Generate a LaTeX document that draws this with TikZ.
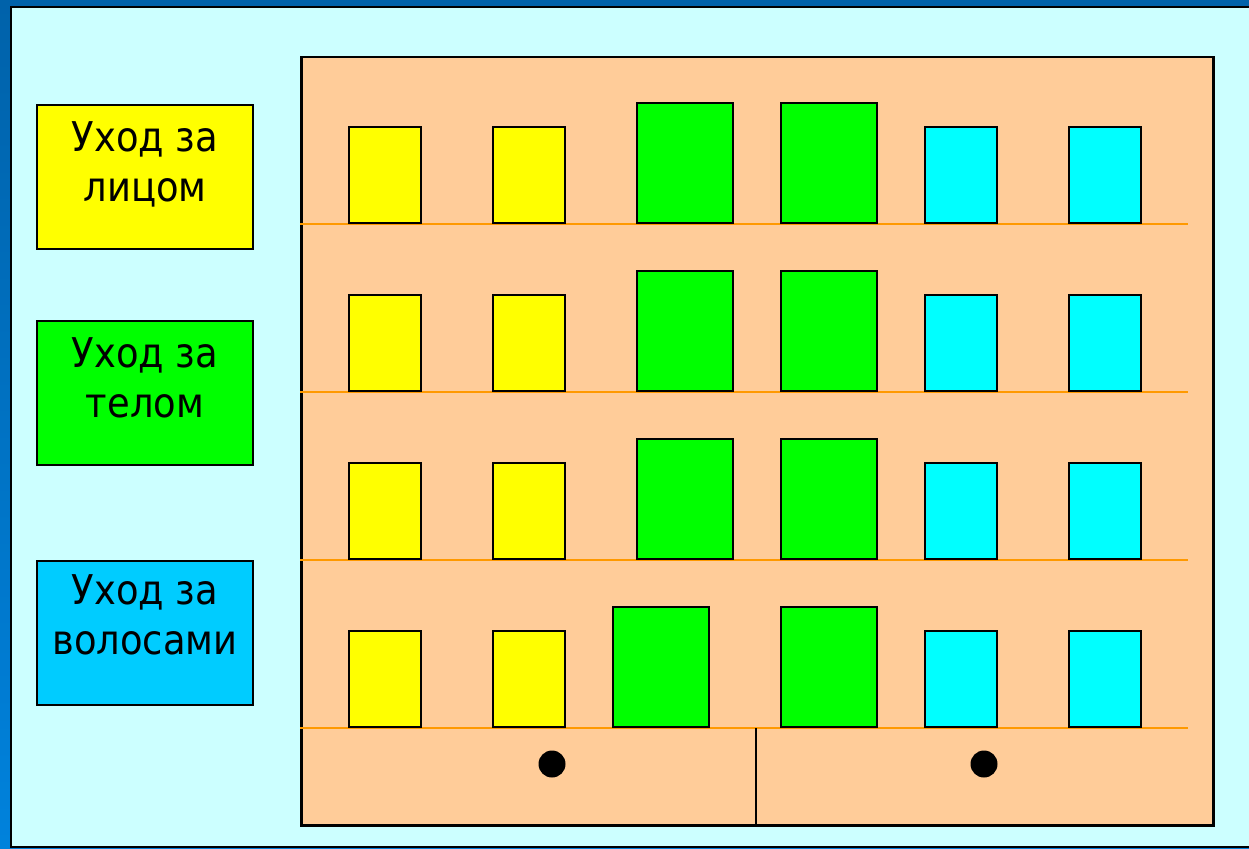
\documentclass[tikz,border=0pt]{standalone}
\usepackage{fontspec}
\setmainfont{DejaVu Sans Condensed}
\usetikzlibrary{positioning}
\definecolor{frametop}{HTML}{0062AA}
\definecolor{framebot}{HTML}{0082DC}
\definecolor{sky}{HTML}{CCFFFF}
\definecolor{wall}{HTML}{FFCC99}
\definecolor{shelf}{HTML}{FF9900}
\definecolor{facey}{HTML}{FFFF00}
\definecolor{bodyg}{HTML}{00FF00}
\definecolor{hairc}{HTML}{00FFFF}
\definecolor{hairtag}{HTML}{00CCFF}
\tikzset{
  tag/.style={draw=black,line width=2pt,minimum width=216pt,minimum height=144pt,
    inner sep=0pt,anchor=north west},
  tagtext/.style={align=center,inner sep=0pt,font=\fontsize{41}{50}\selectfont},
  pane/.style={draw=black,line width=2pt,inner sep=0pt,anchor=south west,
    minimum width=72pt,minimum height=96pt},
  widepane/.style={pane,minimum width=96pt,minimum height=120pt},
  shelfline/.style={draw=shelf,line width=1.6pt},
  knob/.style={circle,fill=black,inner sep=0pt,minimum size=27pt}
}
\begin{document}
\begin{tikzpicture}[x=1pt,y=-1pt]
    \useasboundingbox (0,0) rectangle (1249,848);
    % frame
    \shade[top color=frametop,bottom color=framebot] (0,0) rectangle (1249,848);
    \draw[fill=sky,line width=2pt] (11,7) rectangle (1255,847);
    % labels
    \node[tag,fill=facey] (face) at (36,104) {};
    \node[tagtext,below=17pt of face.north] (face-t) {Уход за\\лицом};
    \node[tag,fill=bodyg] (body) at (36,320) {};
    \node[tagtext,below=17pt of body.north] (body-t) {Уход за\\телом};
    \node[tag,fill=hairtag] (hair) at (36,560) {};
    \node[tagtext,below=14pt of hair.north] (hair-t) {Уход за\\волосами};
    % house
    \node[draw=black,fill=wall,line width=2.5pt,inner sep=0pt,anchor=north west,
      minimum width=912pt,minimum height=768pt] (house) at (300,56) {};
    \foreach \r/\y in {1/224,2/392,3/560,4/728}{
      \draw[shelfline] (house.west |- 0,\y) -- (1188,\y);
      \pgfmathsetmacro\gx{\r==4 ? 612 : 636}
      \node[pane,fill=facey] (f\r a) at (348,\y) {};
      \node[pane,fill=facey] (f\r b) at (492,\y) {};
      \node[widepane,fill=bodyg] (b\r a) at (\gx,\y) {};
      \node[widepane,fill=bodyg] (b\r b) at (780,\y) {};
      \node[pane,fill=hairc] (h\r a) at (924,\y) {};
      \node[pane,fill=hairc] (h\r b) at (1068,\y) {};
    }
    % doors
    \coordinate (door) at (756,728);
    \draw[line width=2pt] (door) -- (door |- house.south);
    \node[knob] (knob-l) at (552,764) {};
    \node[knob] (knob-r) at (984,764) {};
\end{tikzpicture}
\end{document}
